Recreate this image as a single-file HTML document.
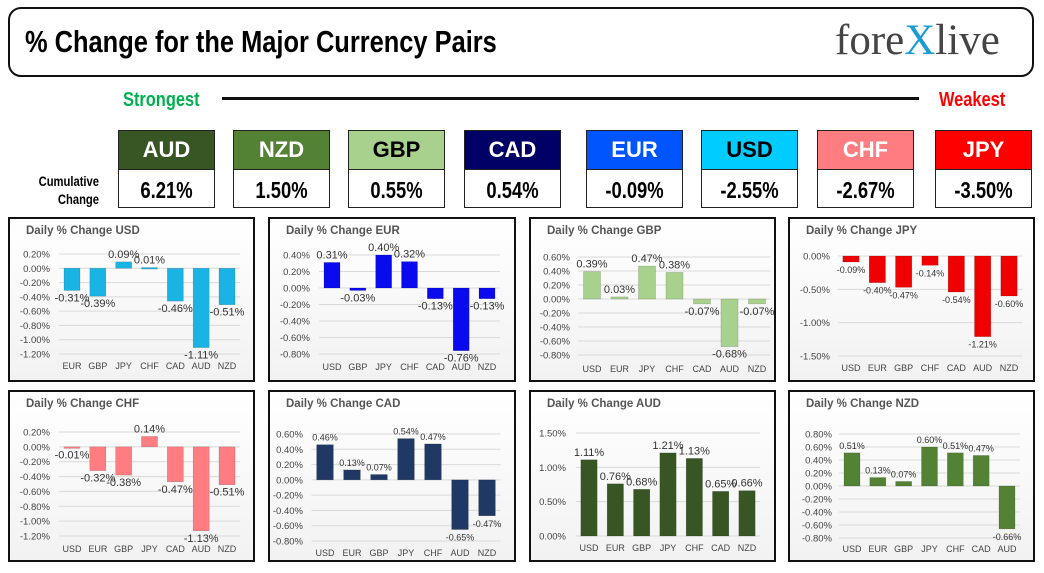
<!DOCTYPE html>
<html><head><meta charset="utf-8">
<style>
body{margin:0;width:1044px;height:573px;background:#fff;position:relative;overflow:hidden;font-family:"Liberation Sans",sans-serif}
.abs{position:absolute}
.imp{font-family:"Liberation Sans",sans-serif;font-weight:bold;transform-origin:left top}
.card{position:absolute;top:130px;width:97px;height:78px;border:1px solid #222;box-sizing:border-box}
.card .h{height:38px;border-bottom:1px solid #222;text-align:center;font-weight:bold;font-size:22px;line-height:38px}
.card .v{height:39px;text-align:center;font-weight:bold;font-size:23px;line-height:40px;transform:scaleX(.8)}
.panel{position:absolute;border:2px solid #111;box-sizing:border-box;background:linear-gradient(#fff,#f2f2f2)}
</style></head><body>
<div class="abs" style="left:8px;top:7px;width:1026px;height:70px;border:2.5px solid #111;border-radius:13px;box-sizing:border-box"></div>
<div class="abs imp" style="left:25px;top:24px;font-size:31px;transform:scaleX(.82);white-space:nowrap">% Change for the Major Currency Pairs</div>
<div class="abs" style="left:835px;top:16px;font-family:'Liberation Serif',serif;font-size:43px;color:#444;white-space:nowrap">fore<span style="color:#1a9bd7">X</span>live</div>
<div class="abs imp" style="left:123px;top:89px;font-size:20px;color:#00b050;transform:scaleX(.82)">Strongest</div>
<div class="abs" style="left:222px;top:97px;width:697px;height:3px;background:#111"></div>
<div class="abs imp" style="left:939px;top:89px;font-size:20px;color:#f00;transform:scaleX(.82)">Weakest</div>
<div class="abs imp" style="left:27px;top:172px;font-size:14px;text-align:right;line-height:18px;width:90px;transform:scaleX(.8)">Cumulative<br>Change</div>
<div id="cards"></div>
<div id="panels"></div>
<script>
const cardNames=["AUD","NZD","GBP","CAD","EUR","USD","CHF","JPY"];
const cardValues=["6.21%","1.50%","0.55%","0.54%","-0.09%","-2.55%","-2.67%","-3.50%"];
const cardBg=["#375623","#548235","#a9d18e","#000066","#0055ff","#00ccff","#ff7c80","#ff0000"];
const cardFg=["#fff","#fff","#000","#fff","#fff","#000","#fff","#fff"];
const cardX=[118,233,348,464,586,701,817,935];
const cc=document.getElementById('cards');
cardNames.forEach((n,i)=>{
  const d=document.createElement('div');d.className='card';
  
  
  d.style.left=cardX[i]+'px';
  d.innerHTML='<div class="h" style="background:'+cardBg[i]+';color:'+cardFg[i]+'">'+n+'</div><div class="v">'+cardValues[i]+'</div>';
  cc.appendChild(d);
});

const usdCats=["EUR","GBP","JPY","CHF","CAD","AUD","NZD"];
const usdVals=[-0.31,-0.39,0.09,0.01,-0.46,-1.11,-0.51];
const eurCats=["USD","GBP","JPY","CHF","CAD","AUD","NZD"];
const eurVals=[0.31,-0.03,0.40,0.32,-0.13,-0.76,-0.13];
const gbpCats=["USD","EUR","JPY","CHF","CAD","AUD","NZD"];
const gbpVals=[0.39,0.03,0.47,0.38,-0.07,-0.68,-0.07];
const jpyCats=["USD","EUR","GBP","CHF","CAD","AUD","NZD"];
const jpyVals=[-0.09,-0.40,-0.47,-0.14,-0.54,-1.21,-0.60];
const chfCats=["USD","EUR","GBP","JPY","CAD","AUD","NZD"];
const chfVals=[-0.01,-0.32,-0.38,0.14,-0.47,-1.13,-0.51];
const cadCats=["USD","EUR","GBP","JPY","CHF","AUD","NZD"];
const cadVals=[0.46,0.13,0.07,0.54,0.47,-0.65,-0.47];
const audCats=["USD","EUR","GBP","JPY","CHF","CAD","NZD"];
const audVals=[1.11,0.76,0.68,1.21,1.13,0.65,0.66];
const nzdCats=["USD","EUR","GBP","JPY","CHF","CAD","AUD"];
const nzdVals=[0.51,0.13,0.07,0.60,0.51,0.47,-0.66];
const usdTicks=[0.2,0,-0.2,-0.4,-0.6,-0.8,-1.0,-1.2];
const eurTicks=[0.4,0.2,0,-0.2,-0.4,-0.6,-0.8];
const gbpTicks=[0.6,0.4,0.2,0,-0.2,-0.4,-0.6,-0.8];
const jpyTicks=[0,-0.5,-1.0,-1.5];
const chfTicks=[0.2,0,-0.2,-0.4,-0.6,-0.8,-1.0,-1.2];
const cadTicks=[0.6,0.4,0.2,0,-0.2,-0.4,-0.6,-0.8];
const audTicks=[1.5,1.0,0.5,0];
const nzdTicks=[0.8,0.6,0.4,0.2,0,-0.2,-0.4,-0.6,-0.8];

const panels=[
 {n:"USD",cats:usdCats,vals:usdVals,ticks:usdTicks,box:[8,217,247,165],ty:[254,354],cx:[72,227],catY:366,lx:50,col:"#1ab4e4"},
 {n:"EUR",cats:eurCats,vals:eurVals,ticks:eurTicks,box:[268,217,248,165],ty:[255,354],cx:[332,487],catY:367,lx:310,col:"#0a0aee"},
 {n:"GBP",cats:gbpCats,vals:gbpVals,ticks:gbpTicks,box:[529,217,247,165],ty:[257,355],cx:[592,757],catY:369,lx:570,col:"#a9d18e"},
 {n:"JPY",cats:jpyCats,vals:jpyVals,ticks:jpyTicks,box:[788,217,247,165],ty:[256,356],cx:[851,1009],catY:368,lx:830,col:"#f00000"},
 {n:"CHF",cats:chfCats,vals:chfVals,ticks:chfTicks,box:[8,390,247,172],ty:[432,536],cx:[72,227],catY:549,lx:50,col:"#ff7c80"},
 {n:"CAD",cats:cadCats,vals:cadVals,ticks:cadTicks,box:[268,390,248,172],ty:[434,541],cx:[325,487],catY:553,lx:303,col:"#1f3864"},
 {n:"AUD",cats:audCats,vals:audVals,ticks:audTicks,box:[529,390,247,172],ty:[433,536],cx:[589,747],catY:548,lx:566,col:"#375623"},
 {n:"NZD",cats:nzdCats,vals:nzdVals,ticks:nzdTicks,box:[788,390,247,172],ty:[434,538],cx:[852,1007],catY:549,lx:832,col:"#548235"}
];
const NS="http://www.w3.org/2000/svg";
const svg=document.createElementNS(NS,'svg');
svg.setAttribute('width','1044');svg.setAttribute('height','573');
svg.setAttribute('style','position:absolute;left:0;top:0');


const pc=document.getElementById('panels');
function mk(t,a,p){const e=document.createElementNS(NS,t);for(const k in a)e.setAttribute(k,a[k]);p.appendChild(e);return e;}
function fmt(v){return v.toFixed(2)+'%';}
panels.forEach(P=>{
  const b=document.createElement('div');b.className='panel';
  
  
  b.style.left=P.box[0]+'px';b.style.top=P.box[1]+'px';b.style.width=P.box[2]+'px';b.style.height=P.box[3]+'px';
  pc.appendChild(b);
  const g=mk('g',{},svg);
  
  
  const tt=mk('text',{x:P.box[0]+18,y:P.box[1]+17,'font-size':'11.5','font-weight':'bold',fill:'#555'},g);
  tt.textContent='Daily % Change '+P.n;
  
  
  const t0=P.ticks[0],t1=P.ticks[P.ticks.length-1];
  const y=v=>P.ty[0]+(t0-v)/(t0-t1)*(P.ty[1]-P.ty[0]);
  const n=P.cats.length,step=(P.cx[1]-P.cx[0])/(n-1);
  const x=i=>P.cx[0]+i*step;
  const left=P.cx[0]-step/2,right=P.cx[1]+step/2;
  P.ticks.forEach(t=>{
    mk('line',{x1:left,x2:right,y1:y(t),y2:y(t),stroke:'#d9d9d9','stroke-width':1},g);
    const l=mk('text',{x:P.lx,y:y(t)+3.5,'font-size':'9.5','text-anchor':'end',fill:'#444'},g);
    l.textContent=fmt(t);
    
    
  });
  const bw=step*0.62;
  P.vals.forEach((v,i)=>{
    const y0=y(0),y1=y(v);
    const r=mk('rect',{x:x(i)-bw/2,y:Math.min(y0,y1),width:bw,height:Math.max(1.5,Math.abs(y1-y0)),fill:P.col,stroke:'rgba(0,0,0,0.25)','stroke-width':0.5},g);
    
    
    const lab=mk('text',{x:x(i),y:v>=0?y1-4:y1+11,'font-size':(P.n==='JPY'||P.n==='CAD'||P.n==='NZD')?'9':'11','text-anchor':'middle',fill:'#333'},g);
    lab.textContent=fmt(v);
    
    
    const c=mk('text',{x:x(i),y:P.catY+3,'font-size':'9','text-anchor':'middle',fill:'#444'},g);
    c.textContent=P.cats[i];
    
    
  });
});
document.body.appendChild(svg);
</script>
</body></html>
